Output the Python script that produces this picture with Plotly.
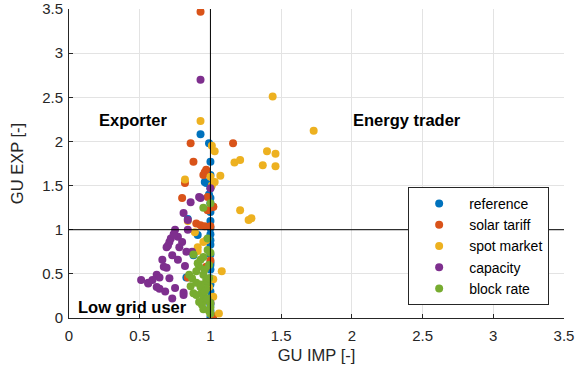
import plotly.graph_objects as go

series_names = ["reference", "solar tariff", "spot market", "capacity", "block rate"]
series_colors = ["#0072BD", "#D95319", "#EDB120", "#7E2F8E", "#77AC30"]

ref_x = [1.0, 1.0, 1.0, 1.0, 1.0, 1.0, 1.0, 1.0, 1.0, 1.0, 1.0, 1.0, 1.0, 1.0, 1.0, 1.0, 0.99, 0.96, 0.97, 0.84, 0.91, 0.88, 0.83, 0.93, 0.99, 1.0, 1.0, 1.0, 1.0, 1.0, 1.0]
ref_y = [0.01, 0.08, 0.15, 0.22, 0.30, 0.38, 0.45, 0.55, 0.63, 0.72, 0.83, 0.95, 1.02, 1.10, 1.20, 1.30, 1.40, 1.54, 1.53, 1.12, 0.94, 0.71, 0.46, 2.08, 1.98, 1.77, 1.62, 1.47, 0.88, 0.60, 1.36]

sol_x = [0.93, 0.86, 1.16, 0.88, 0.97, 0.95, 0.82, 0.80, 0.98, 1.02, 0.90, 0.93, 0.96, 1.00, 0.97, 0.84, 1.02, 0.96, 1.00, 0.98, 1.02]
sol_y = [3.47, 1.98, 1.98, 1.77, 1.68, 1.62, 1.53, 1.36, 1.37, 1.26, 1.07, 1.05, 1.04, 1.04, 0.58, 0.46, 0.02, 1.65, 0.65, 1.22, 1.26]

spot_x = [0.93, 1.44, 1.73, 1.01, 1.03, 1.17, 1.21, 1.40, 1.46, 1.37, 1.46, 1.07, 1.03, 1.00, 0.82, 1.21, 1.27, 1.29, 0.89, 0.97, 0.91, 0.91, 1.08, 1.02, 1.02, 1.06, 1.00, 1.01, 0.99, 0.95, 0.84]
spot_y = [2.23, 2.51, 2.12, 1.95, 1.89, 1.76, 1.79, 1.89, 1.86, 1.73, 1.72, 1.61, 1.54, 1.60, 1.57, 1.22, 1.11, 1.13, 0.97, 0.88, 0.80, 0.76, 0.53, 0.44, 0.24, 0.05, 0.05, 1.50, 0.35, 0.86, 1.10]

cap_x = [0.93, 0.93, 1.00, 0.86, 0.92, 0.81, 0.84, 0.75, 0.84, 0.71, 0.77, 0.80, 0.78, 0.69, 0.70, 0.83, 0.87, 0.73, 0.66, 0.77, 0.67, 0.69, 0.82, 0.62, 0.64, 0.71, 0.51, 0.56, 0.62, 0.64, 0.68, 0.75, 0.73, 0.81, 0.81, 1.00, 0.72, 0.74, 0.56, 0.59]
cap_y = [2.70, 1.36, 1.47, 1.31, 1.37, 1.19, 1.11, 1.00, 1.00, 0.86, 0.92, 0.86, 0.80, 0.80, 0.82, 0.75, 0.75, 0.71, 0.66, 0.66, 0.58, 0.57, 0.59, 0.49, 0.46, 0.45, 0.43, 0.39, 0.35, 0.33, 0.30, 0.34, 0.22, 0.29, 0.26, 0.17, 0.90, 0.95, 0.40, 0.43]

blk_x = [0.95, 1.00, 0.98, 0.98, 1.00, 0.88, 0.93, 0.95, 0.91, 0.92, 0.90, 0.85, 0.95, 0.97, 0.86, 0.88, 0.90, 0.94, 0.95, 0.97, 1.00, 1.00, 0.99, 0.96, 0.98, 0.93, 0.97, 0.99, 1.00, 0.94, 0.87, 0.90, 0.93, 0.96, 0.98, 0.92, 0.95, 0.99]
blk_y = [1.25, 1.30, 0.90, 0.77, 0.74, 0.72, 0.66, 0.69, 0.62, 0.58, 0.53, 0.49, 0.49, 0.43, 0.36, 0.28, 0.26, 0.29, 0.24, 0.20, 0.17, 0.12, 0.60, 0.55, 0.40, 0.38, 0.33, 0.45, 0.05, 0.15, 0.45, 0.40, 0.35, 0.30, 0.22, 0.18, 0.10, 0.08]

tick_vals = [0, 0.5, 1, 1.5, 2, 2.5, 3, 3.5]
tick_text = ["0", "0.5", "1", "1.5", "2", "2.5", "3", "3.5"]

quad_labels = ["Exporter", "Energy trader", "Low grid user"]
quad_x = [0.45, 2.39, 0.45]
quad_y = [2.24, 2.24, 0.12]

xs = [ref_x, sol_x, spot_x, cap_x, blk_x]
ys = [ref_y, sol_y, spot_y, cap_y, blk_y]

fig = go.Figure()
for name, col, x, y in zip(series_names, series_colors, xs, ys):
    fig.add_trace(go.Scatter(x=x, y=y, mode="markers", name=name,
                             marker=dict(color=col, size=8, line=dict(width=0))))

# quadrant dividing lines
fig.add_shape(type="line", x0=1, x1=1, y0=0, y1=3.5, xref="x", yref="y",
              line=dict(color="black", width=1), layer="above")
fig.add_shape(type="line", x0=0, x1=3.5, y0=1, y1=1, xref="x", yref="y",
              line=dict(color="black", width=1), layer="above")

for t, x, y in zip(quad_labels, quad_x, quad_y):
    fig.add_annotation(x=x, y=y, text="<b>" + t + "</b>", showarrow=False,
                       font=dict(size=16.5, color="black", family="Liberation Sans"))

axis_common = dict(range=[0, 3.5], tickvals=tick_vals, ticktext=tick_text,
                   showgrid=True, gridcolor="#e3e3e3", gridwidth=1,
                   zeroline=False, showline=True, linecolor="#262626", linewidth=1,
                   ticks="inside", ticklen=4, tickcolor="#262626",
                   tickfont=dict(size=15, color="#262626", family="Liberation Sans"),
                   mirror=False, automargin=False)

fig.update_xaxes(**axis_common, ticklabelstandoff=4,
                 title=dict(text="GU IMP [-]", standoff=6,
                            font=dict(size=16.5, color="#262626", family="Liberation Sans")))
fig.update_yaxes(**axis_common, ticklabelstandoff=2,
                 title=dict(text="GU EXP [-]", standoff=14,
                            font=dict(size=16.5, color="#262626", family="Liberation Sans")))

fig.update_layout(
    width=585, height=376,
    margin=dict(l=69, r=21, t=9, b=58),
    plot_bgcolor="white", paper_bgcolor="white",
    font=dict(family="Liberation Sans", color="#262626"),
    legend=dict(x=0.97, y=0.042, xanchor="right", yanchor="bottom",
                bgcolor="white", bordercolor="#262626", borderwidth=1,
                font=dict(size=14, color="black", family="Liberation Sans"),
                itemwidth=50, tracegroupgap=0),
    showlegend=True,
)

fig.write_html("out.html")
